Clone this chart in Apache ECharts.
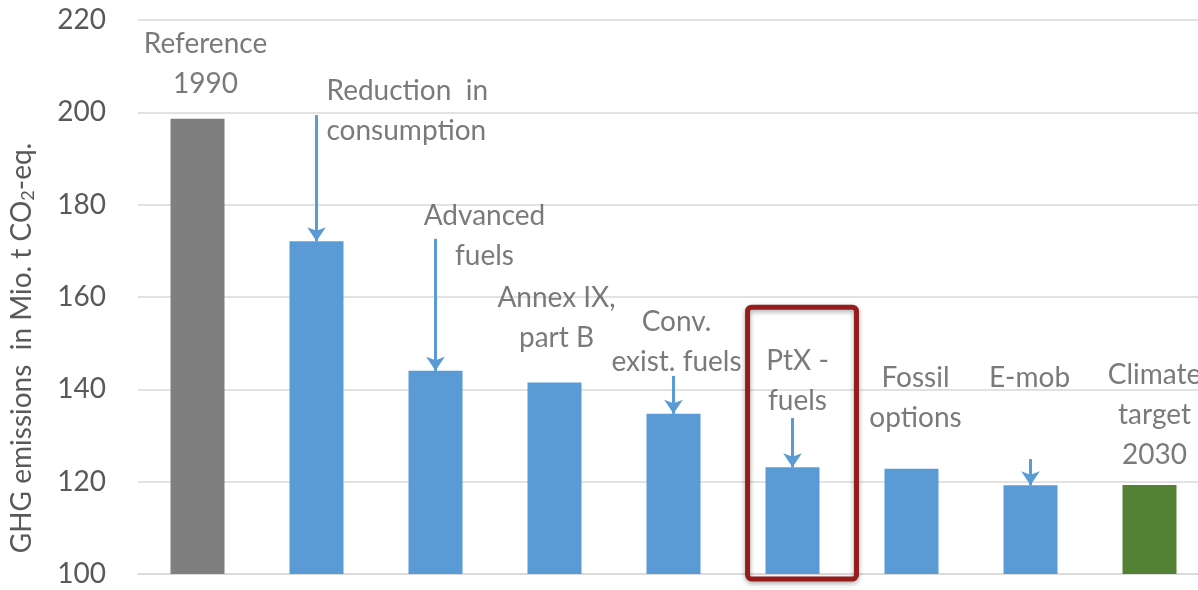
<!DOCTYPE html>
<html>
<head>
<meta charset="utf-8">
<title>GHG emissions pathway</title>
<script src="https://cdn.jsdelivr.net/npm/echarts@6/dist/echarts.min.js"></script>
<style>
  html, body { margin: 0; padding: 0; background: #ffffff; }
  #chart { width: 1198px; height: 590px; }
</style>
</head>
<body>
<div id="chart"></div>
<script>
// Steps from the 1990 reference towards the 2030 climate target
const categories = [
  'Reference 1990', 'Reduction in consumption', 'Advanced fuels',
  'Annex IX, part B', 'Conv. exist. fuels', 'PtX - fuels',
  'Fossil options', 'E-mob', 'Climate target 2030'
];
// GHG emissions in Mio. t CO2-eq.
const emissions = [198.6, 172.1, 144.0, 141.5, 134.7, 123.1, 122.8, 119.2, 119.3];

// Value axis range
const axisMin = 100;
const axisMax = 220;
const axisStep = 20;

// Annotation text above each bar
const noteTexts = [
  'Reference\n1990', 'Reduction  in\nconsumption', 'Advanced\nfuels',
  'Annex IX,\npart B', 'Conv.\nexist. fuels', 'PtX -\nfuels',
  'Fossil\noptions', 'E-mob', 'Climate\ntarget\n2030'
];
// Value level at which each annotation block is centred
const noteLevels = [210.5, 200.3, 173.2, 155.5, 150.3, 141.8, 138.1, 142.5, 134.5];

// Arrows pointing down onto a bar: start level (null = no arrow)
const arrowStarts = [null, 199.4, 172.6, null, 142.9, 133.8, null, 124.9, null];

// Highlighted step
const highlighted = 'PtX - fuels';
const highlightTop = 157.8;

// ---- styling / layout ----
const TEXT = '#595959';
const FONT = 'Lato, "Open Sans", sans-serif';
const noteShift = [8, 10, 49, 2, 3, 5, 4, -1, 5];
const noteAlign = ['center', 'left', 'center', 'center', 'center', 'center', 'center', 'center', 'center'];

function barColor(i) {
  if (i === 0) return '#7f7f7f';
  if (i === categories.length - 1) return '#548235';
  return '#5b9bd5';
}

const barData = emissions.map((v, i) => ({ value: v, itemStyle: { color: barColor(i) } }));

const arrowLines = [];
arrowStarts.forEach((from, i) => {
  if (from === null) return;
  arrowLines.push([
    { coord: [categories[i], from] },
    { coord: [categories[i], emissions[i]] }
  ]);
});

const noteData = noteTexts.map((t, i) => ({
  value: [categories[i], noteLevels[i]],
  label: {
    formatter: t,
    align: noteAlign[i],
    offset: [noteShift[i], 0]
  }
}));

const chart = echarts.init(document.getElementById('chart'), null, { renderer: 'canvas' });

chart.setOption({
  animation: false,
  backgroundColor: '#ffffff',
  textStyle: { fontFamily: FONT },
  // plot runs slightly past the right edge of the canvas
  grid: {
    left: 138, width: 1071, top: 20, bottom: 16,
    containLabel: false,
    outerBoundsMode: 'none'
  },
  xAxis: {
    type: 'category',
    data: categories,
    axisLabel: { show: false },
    axisTick: { show: false },
    axisLine: { show: true, lineStyle: { color: '#d9d9d9', width: 1.5 } }
  },
  yAxis: {
    type: 'value',
    min: axisMin,
    max: axisMax,
    interval: axisStep,
    axisLine: { show: false },
    axisTick: { show: false },
    axisLabel: { color: TEXT, fontSize: 28, fontFamily: FONT, margin: 32 },
    splitLine: { lineStyle: { color: '#d9d9d9', width: 1.5 } }
  },
  series: [
    {
      type: 'bar',
      data: barData,
      barWidth: 54,
      silent: true,
      markLine: {
        silent: true,
        symbol: ['none', 'arrow'],
        symbolSize: [14, 14],
        label: { show: false },
        lineStyle: { color: '#5b9bd5', width: 3, type: 'solid' },
        data: arrowLines
      }
    },
    {
      type: 'scatter',
      data: noteData,
      symbolSize: 0,
      silent: true,
      z: 5,
      label: {
        show: true,
        position: 'inside',
        verticalAlign: 'middle',
        color: TEXT,
        fontSize: 28,
        fontFamily: FONT,
        lineHeight: 40
      }
    }
  ],
  graphic: [
    {
      type: 'text',
      x: 22,
      y: 348,
      rotation: Math.PI / 2,
      style: {
        text: 'GHG emissions  in Mio. t CO{sub|2}-eq.',
        fill: TEXT,
        fontSize: 28,
        fontFamily: FONT,
        align: 'center',
        verticalAlign: 'middle',
        rich: {
          sub: { fontSize: 18, fill: TEXT, fontFamily: FONT, padding: [13, 0, 0, 0] }
        }
      }
    }
  ]
});

// Frame around the highlighted step, placed through the axes
function drawHighlight() {
  const idx = categories.indexOf(highlighted);
  const topPt = chart.convertToPixel({ seriesIndex: 0 }, [highlighted, highlightTop]);
  const basePt = chart.convertToPixel({ seriesIndex: 0 }, [highlighted, axisMin]);
  const nextPt = chart.convertToPixel({ seriesIndex: 0 }, [categories[idx + 1], axisMin]);
  const band = nextPt[0] - basePt[0];
  const w = band * 0.915;
  const cx = topPt[0] + band * 0.08;
  chart.setOption({
    graphic: [
      {
        id: 'highlight',
        type: 'rect',
        shape: { x: cx - w / 2, y: topPt[1], width: w, height: basePt[1] + 5 - topPt[1], r: 4 },
        style: {
          fill: 'none',
          stroke: '#941c1c',
          lineWidth: 5,
          shadowBlur: 5,
          shadowColor: 'rgba(0,0,0,0.35)',
          shadowOffsetY: 2
        },
        z: 10
      }
    ]
  });
}
drawHighlight();
</script>
</body>
</html>
